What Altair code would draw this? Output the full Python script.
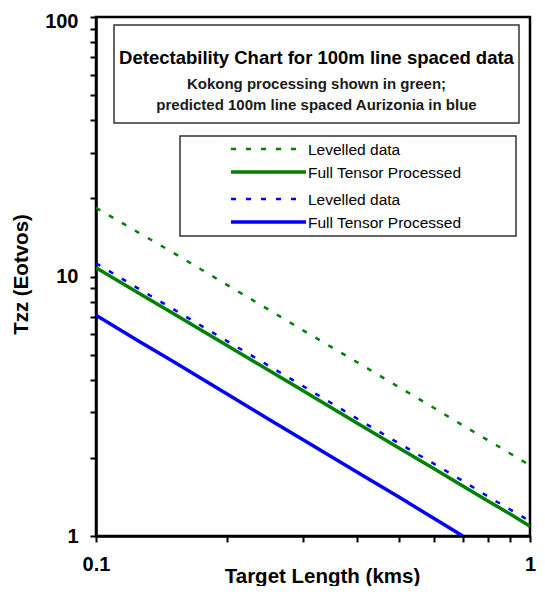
import altair as alt
import pandas as pd

# ---------------- data ----------------
x_km = [0.1, 0.125, 0.15, 0.2, 0.25, 0.3, 0.4, 0.5, 0.6, 0.7, 0.8, 0.9, 1.0]
kokong_levelled = [18.4, 14.8, 12.4, 9.3, 7.45, 6.2, 4.67, 3.74, 3.12, 2.67, 2.34, 2.08, 1.87]
kokong_full_tensor = [10.8, 8.66, 7.23, 5.43, 4.35, 3.63, 2.72, 2.18, 1.82, 1.56, 1.365, 1.215, 1.09]
aurizonia_levelled = [11.25, 9.0, 7.52, 5.65, 4.53, 3.78, 2.83, 2.27, 1.9, 1.63, 1.42, 1.265, 1.14]
aurizonia_full_tensor = [7.09, 5.66, 4.72, 3.53, 2.82, 2.35, 1.76, 1.41, 1.17, 1.0]

series_names = ["Kokong levelled", "Kokong full tensor", "Aurizonia levelled", "Aurizonia full tensor"]
series_values = [kokong_levelled, kokong_full_tensor, aurizonia_levelled, aurizonia_full_tensor]
legend_labels = ["Levelled data", "Full Tensor Processed", "Levelled data", "Full Tensor Processed"]
series_colors = ["#008000", "#008000", "#0000FF", "#0000FF"]
series_dashed = [True, False, True, False]

x_ticks = [0.1, 0.2, 0.3, 0.4, 0.5, 0.6, 0.7, 0.8, 0.9, 1]
y_ticks = [1, 2, 3, 4, 5, 6, 7, 8, 9, 10, 20, 30, 40, 50, 60, 70, 80, 90, 100]

chart_title = "Detectability Chart for 100m line spaced data"
subtitle_lines = ["Kokong processing shown in green;", "predicted 100m line spaced Aurizonia in blue"]
x_title = "Target Length (kms)"
y_title = "Tzz (Eotvos)"

FONT = "Liberation Sans, Arial, sans-serif"

rows = []
for name, vals in zip(series_names, series_values):
    for xv, yv in zip(x_km, vals):
        rows.append({"series": name, "x": xv, "y": yv})
df = pd.DataFrame(rows)

x_enc = alt.X(
    "x:Q",
    scale=alt.Scale(type="log", domain=[0.1, 1], nice=False),
    axis=alt.Axis(
        values=x_ticks,
        labelExpr="datum.value == 1 ? '1' : (abs(datum.value - 0.1) < 1e-9 ? '0.1' : '')",
        labelBaseline="alphabetic",
        labelPadding=28,
        labelAlign="center",
        labelFlush=False,
        labelOverlap=False,
        titleX=226,
        titleY=46,
        titleBaseline="alphabetic",
        titleAlign="center",
    ),
    title=x_title,
)
y_enc = alt.Y(
    "y:Q",
    scale=alt.Scale(type="log", domain=[1, 100], nice=False),
    axis=alt.Axis(
        values=y_ticks,
        labelExpr="(datum.value == 1 || datum.value == 10 || datum.value == 100) ? datum.value + '' : ''",
        labelPadding=12,
        labelOffset={"condition": {"test": "datum.value == 100", "value": 4}, "value": 0},
        labelOverlap=False,
        labelFlush=False,
        titleX=-69,
        titleY=257,
        titleAngle=270,
        titleBaseline="alphabetic",
        titleAlign="center",
    ),
    title=y_title,
)

layers = []
for name, color, dashed in zip(series_names, series_colors, series_dashed):
    kw = dict(color=color, strokeWidth=2.5 if dashed else 3.5, clip=True)
    if dashed:
        kw["strokeDash"] = [5, 10]
    layers.append(
        alt.Chart(df)
        .transform_filter(alt.datum.series == name)
        .mark_line(**kw)
        .encode(x=x_enc, y=y_enc, order="x:Q")
    )

one = pd.DataFrame({"k": [0]})

# annotation box
layers.append(
    alt.Chart(one).mark_rect(fill="white", stroke="#333333", strokeWidth=1.5).encode(
        x=alt.value(18), x2=alt.value(423), y=alt.value(8), y2=alt.value(106)
    )
)
layers.append(
    alt.Chart(pd.DataFrame({"t": [chart_title]})).mark_text(
        align="center", baseline="middle", font=FONT, fontSize=18.5, fontWeight="bold", color="black"
    ).encode(x=alt.value(220.5), y=alt.value(40.5), text="t:N")
)
sub_y = [66.5, 88]
for line, yy in zip(subtitle_lines, sub_y):
    layers.append(
        alt.Chart(pd.DataFrame({"t": [line]})).mark_text(
            align="center", baseline="middle", font=FONT, fontSize=15, fontWeight="bold", color="#1a1a1a"
        ).encode(x=alt.value(220.5), y=alt.value(yy), text="t:N")
    )

# legend box
layers.append(
    alt.Chart(one).mark_rect(fill="white", stroke="#333333", strokeWidth=1.5).encode(
        x=alt.value(84), x2=alt.value(420), y=alt.value(119), y2=alt.value(219)
    )
)
legend_row_y = [132, 155, 182, 205]
for label, color, dashed, yy in zip(legend_labels, series_colors, series_dashed, legend_row_y):
    kw = dict(color=color, strokeWidth=2.5 if dashed else 3.5)
    if dashed:
        kw["strokeDash"] = [5, 10]
    layers.append(
        alt.Chart(one).mark_rule(**kw).encode(
            x=alt.value(135), x2=alt.value(202 if dashed else 210), y=alt.value(yy)
        )
    )
    layers.append(
        alt.Chart(pd.DataFrame({"t": [label]})).mark_text(
            align="left", baseline="middle", font=FONT, fontSize=15.5, color="black"
        ).encode(x=alt.value(212), y=alt.value(yy + 0.5), text="t:N")
    )

chart = (
    alt.layer(*layers)
    .properties(
        width=434,
        height=519,
        autosize=alt.AutoSizeParams(type="none"),
        padding={"left": 88, "top": 9, "right": 7, "bottom": 50},
    )
    .configure_view(stroke="black", strokeWidth=2.5)
    .configure_axis(
        grid=False,
        domainColor="black",
        domainWidth=2.5,
        tickColor="black",
        tickWidth=2,
        tickSize=6,
        labelFont=FONT,
        labelFontSize=20,
        labelFontWeight="bold",
        labelColor="black",
        titleFont=FONT,
        titleFontSize=20.5,
        titleFontWeight="bold",
        titleColor="black",
    )
)

chart.save("out.html", embed_options={"renderer": "svg", "actions": False})
